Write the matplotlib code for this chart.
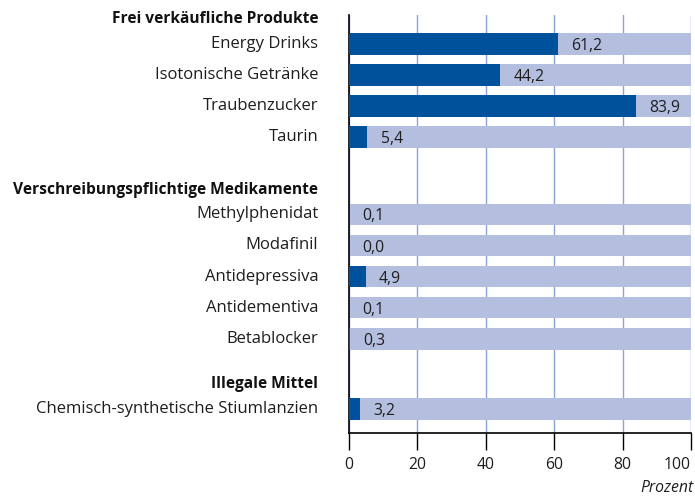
import numpy as np
import matplotlib.pyplot as plt

plt.rcParams['font.family'] = ['Open Sans', 'DejaVu Sans']

groups = ["Frei verkäufliche Produkte",
          "Verschreibungspflichtige Medikamente",
          "Illegale Mittel"]
group_items = [
    ["Energy Drinks", "Isotonische Getränke", "Traubenzucker", "Taurin"],
    ["Methylphenidat", "Modafinil", "Antidepressiva", "Antidementiva", "Betablocker"],
    ["Chemisch-synthetische Stiumlanzien"],
]
group_values = [
    [61.2, 44.2, 83.9, 5.4],
    [0.1, 0.0, 4.9, 0.1, 0.3],
    [3.2],
]
ticks = [0, 20, 40, 60, 80, 100]

dark = "#00519b"
light = "#b4bfdf"
gridc = "#8ca3d3"
txt = "#1e1e1e"
fs = 11.3

fig = plt.figure(figsize=(6.95, 4.97), dpi=100)
ax = fig.add_axes([349 / 695, 1 - 433 / 497, 342 / 695, (433 - 15) / 497])

# row positions: one slot per item, extra space (with header) between groups
gaps = [0, 1.48, 1.26]
ypos, labels, vals, head_pos = [], [], [], []
y = 0.0
for gi, (items, values) in enumerate(zip(group_items, group_values)):
    y += gaps[gi]
    head_pos.append(y - 0.8)
    for it, v in zip(items, values):
        ypos.append(y)
        labels.append(it)
        vals.append(v)
        y += 1.0
ypos = np.array(ypos)

ax.barh(ypos, [100] * len(ypos), height=0.7, color=light, zorder=2)
ax.barh(ypos, vals, height=0.7, color=dark, zorder=3)

for yy, v in zip(ypos, vals):
    ax.annotate(f"{v:.1f}".replace(".", ","), xy=(v, yy), xytext=(9.5, -1.5),
                textcoords="offset points", va="center", ha="left",
                fontsize=fs, color=txt, zorder=4)

ax.set_xlim(0, 100)
ax.set_ylim(ypos[-1] + 0.774, ypos[0] - 0.935)
ax.set_xticks(ticks)
ax.set_xticklabels([str(t) for t in ticks], fontsize=fs)
ax.get_xticklabels()[-1].set_horizontalalignment("right")
ax.set_yticks([])
ax.tick_params(axis="x", direction="out", length=12, width=1, pad=5, color="black",
               labelcolor=txt)
ax.grid(axis="x", color=gridc, linewidth=1, zorder=0)
ax.set_axisbelow(True)

for s in ["top", "right"]:
    ax.spines[s].set_visible(False)
ax.spines["left"].set_linewidth(1.2)
ax.spines["bottom"].set_linewidth(1.2)

trans = ax.get_yaxis_transform()
for yy, lab in zip(ypos, labels):
    ax.text(-0.09, yy, lab, transform=trans, ha="right", va="center",
            fontsize=12.0, color=txt)
for yy, g in zip(head_pos, groups):
    ax.text(-0.09, yy, g, transform=trans, ha="right", va="center",
            fontsize=11.2, fontweight="bold", color="#111111")

fig.text(1 - 1 / 695, 1 - 488 / 497, "Prozent", ha="right", va="center",
         fontsize=fs, style="italic", color=txt)

fig.savefig("out.png", dpi=100)
